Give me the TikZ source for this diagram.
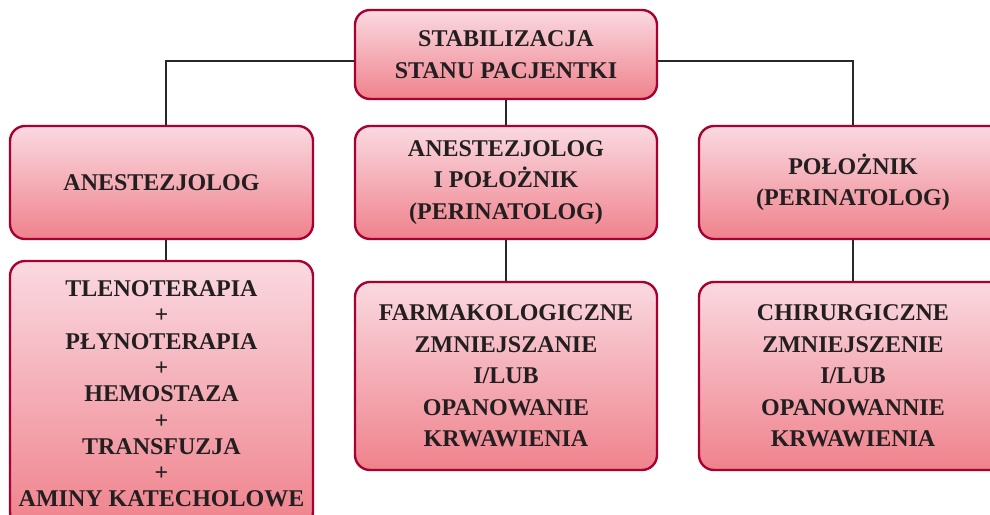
\documentclass[tikz,border=0pt]{standalone}
\usepackage{fontspec}
\setmainfont{Liberation Serif}
\begin{document}
\definecolor{boxedge}{RGB}{168,0,48}
\definecolor{boxtop}{RGB}{250,217,225}
\definecolor{boxbot}{RGB}{239,130,140}
\definecolor{ink}{RGB}{35,31,32}
\definecolor{wire}{RGB}{40,40,40}
\begin{tikzpicture}[x=1pt,y=-1pt,
  card/.style={rectangle, rounded corners=15pt, draw=boxedge, line width=2.4pt,
    top color=boxtop, bottom color=boxbot, inner sep=0pt,
    text=ink, align=center, font=\bfseries\fontsize{24}{31.5}\selectfont},
  tight/.style={font=\bfseries\fontsize{24}{26.3}\selectfont},
  link/.style={draw=wire, line width=2pt}]
\clip (0,0) rectangle (990,514);
\useasboundingbox (0,0) rectangle (990,514);

% row 1
\node[card, minimum width=302pt, minimum height=89pt] (top) at (506,54.5)
  {STABILIZACJA\\STANU PACJENTKI};

% row 2
\node[card, minimum width=303pt, minimum height=113pt] (anest) at (161.5,182.5)
  {ANESTEZJOLOG};
\node[card, minimum width=302pt, minimum height=113pt] (both) at (506,182.5)
  {ANESTEZJOLOG\\I POŁOŻNIK\\(PERINATOLOG)};
\node[card, minimum width=308pt, minimum height=113pt] (polo) at (853,182.5)
  {POŁOŻNIK\\(PERINATOLOG)};

% row 3
\node[card, tight, minimum width=303pt, minimum height=266pt] (care) at (161.5,394)
  {TLENOTERAPIA\\+\\PŁYNOTERAPIA\\+\\HEMOSTAZA\\+\\TRANSFUZJA\\+\\AMINY KATECHOLOWE};
\node[card, minimum width=302pt, minimum height=188pt] (pharm) at (506,376)
  {FARMAKOLOGICZNE\\ZMNIEJSZANIE\\I/LUB\\OPANOWANIE\\KRWAWIENIA};
\node[card, minimum width=308pt, minimum height=188pt] (surg) at (853,376)
  {CHIRURGICZNE\\ZMNIEJSZENIE\\I/LUB\\OPANOWANNIE\\KRWAWIENIA};

% connectors (drawn behind the boxes' edges where they meet)
\draw[link] ([yshift=-6.5pt]top.west) -| ([xshift=4pt]anest.north);
\draw[link] ([yshift=-6.5pt]top.east) -| (polo.north);
\draw[link] (top.south) -- (both.north);
\draw[link] ([xshift=4pt]anest.south) -- ([xshift=4pt]care.north);
\draw[link] (both.south) -- (pharm.north);
\draw[link] (polo.south) -- (surg.north);
\end{tikzpicture}
\end{document}
